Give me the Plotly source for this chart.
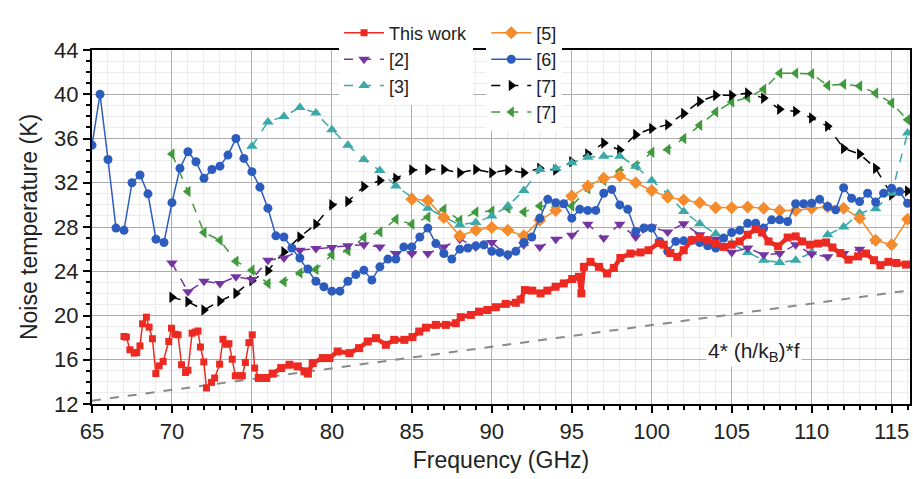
import plotly.graph_objects as go

# ---------------- data ----------------
# This work (red squares) - scattered low-frequency part
red_f_low = [67.0, 67.15, 67.37, 67.64, 67.8, 68.0, 68.16, 68.4, 68.57, 68.78, 68.99, 69.2, 69.45,
             69.8, 69.97, 70.2, 70.38, 70.6, 70.85, 71.0, 71.26, 71.45, 71.63, 71.78, 71.99, 72.16,
             72.47, 72.67, 72.98, 73.19, 73.4, 73.56, 73.77, 73.96, 74.2, 74.4, 74.59, 74.81, 75.02,
             75.17, 75.43]
red_T_low = [18.1, 18.05, 16.9, 16.6, 16.65, 17.25, 19.25, 19.85, 18.95, 17.9, 14.75, 15.45, 15.85,
             17.65, 18.85, 18.3, 18.25, 15.55, 14.85, 15.05, 18.4, 18.5, 18.6, 17.15, 15.8, 13.45,
             13.95, 14.35, 15.6, 17.85, 17.4, 17.45, 16.05, 14.55, 14.55, 14.55, 15.75, 17.55, 18.25,
             15.25, 14.35]
# This work - dense part
red_f_hi = [75.43, 75.9, 76.3, 76.83, 77.35, 77.87, 78.29, 78.5, 78.8, 79.43, 79.85, 80.36, 81.1,
            81.7, 82.24, 82.76, 83.38, 83.9, 84.53, 85.04, 85.46, 85.88, 86.5, 87.13, 87.75, 88.06,
            88.69, 89.2, 89.72, 90.25, 90.87, 91.5, 91.8, 92.07, 92.53, 93.05, 93.47, 93.99, 94.5,
            95.03, 95.44, 95.6, 95.76, 96.17, 96.7, 97.2, 97.63, 98.04, 98.67, 99.3, 99.8, 100.44,
            100.75, 101.16, 101.6, 102.0, 102.5, 103.0, 103.5, 104.0, 104.5, 105.0, 105.5, 106.0,
            106.5, 106.9, 107.3, 107.9, 108.5, 109.0, 109.4, 109.9, 110.4, 110.9, 111.3, 111.8,
            112.3, 112.9, 113.4, 113.9, 114.3, 114.8, 115.3, 115.9]
red_T_hi = [14.35, 14.35, 14.75, 15.25, 15.55, 15.4, 14.95, 14.75, 15.7, 16.15, 16.15, 16.75, 16.6,
            17.05, 17.65, 17.95, 17.35, 17.8, 17.8, 18.05, 18.55, 18.9, 19.15, 19.15, 19.3, 19.85,
            20.05, 20.35, 20.5, 20.75, 21.05, 21.15, 21.45, 22.3, 22.25, 22.0, 22.25, 22.6, 22.9,
            23.3, 23.5, 22.0, 24.4, 24.85, 24.4, 23.8, 24.3, 25.2, 25.6, 25.7, 25.9, 26.55,
            26.4, 25.65, 25.3, 25.9, 26.8, 27.0, 26.8, 26.5, 26.2, 26.4, 26.7, 27.3,
            27.8, 27.5, 26.7, 26.25, 27.05, 27.15, 26.7, 26.4, 26.5, 26.6, 26.15, 25.65,
            25.05, 25.35, 25.6, 25.0, 24.55, 24.85, 24.75, 24.6]

# [2] purple
ref2_f = list(range(70, 115))
ref2_T = [24.75, 22.15, 23.1, 22.9, 23.5, 23.25, 25.0, 25.2, 25.9, 26.05, 26.15, 26.3, 26.4, 26.2,
          25.6, 25.6, 25.6, 26.2, 26.9, 26.2, 26.6, 25.4, 26.4, 26.2, 26.9, 27.25, 28.25, 27.0,
          28.25, 27.1, 28.0, 27.55, 28.3, 27.3, 26.9, 25.7, 26.1, 25.5, 25.6, 26.4, 25.55, 25.3,
          25.6, 26.0, 26.7]

# [3] teal
ref3_f = list(range(75, 117))
ref3_T = [35.3, 37.5, 38.0, 38.8, 38.3, 36.8, 35.4, 34.1, 33.1, 31.7, 30.7, 29.7, 28.9, 28.2, 28.4,
          29.0, 29.9, 31.3, 33.2, 33.3, 33.8, 34.3, 34.4, 34.4, 33.5, 32.2, 31.0, 29.4, 28.3, 27.4,
          26.5, 25.7, 25.0, 24.8, 25.0, 25.7, 27.3, 28.0, 29.25, 29.65, 31.05, 36.5]

# [5] orange
ref5_f = list(range(85, 117))
ref5_T = [30.5, 30.4, 28.85, 27.2, 27.7, 27.95, 27.7, 27.2, 28.6, 29.5, 30.8, 31.7, 32.4, 32.6, 32.0,
          31.3, 30.7, 30.45, 30.2, 29.75, 29.75, 29.8, 29.7, 29.5, 29.5, 29.7, 29.8, 29.7, 28.8,
          26.8, 26.4, 28.7]

# [6] blue
ref6_f = [65 + 0.5 * i for i in range(103)]
ref6_T = [35.4, 40.0, 34.1, 27.9, 27.7, 32.0, 32.7, 31.0, 26.9, 26.6, 30.2, 33.3, 34.8, 33.9, 32.4,
          33.2, 33.5, 34.5, 36.0, 34.2, 33.0, 31.6, 29.7, 27.2, 27.1, 26.1, 25.2, 24.2, 23.1, 22.6,
          22.2, 22.2, 23.1, 23.7, 24.1, 23.2, 24.4, 25.1, 25.1, 26.2, 26.2, 27.1, 27.9, 26.5, 25.6,
          25.1, 26.0, 26.1, 26.3, 26.4, 25.8, 25.7, 25.5, 25.8, 26.6, 27.1, 28.8, 30.5, 30.2, 30.1,
          28.8, 29.6, 29.5, 29.5, 31.05, 31.4, 30.0, 29.6, 27.6, 27.9, 27.9, 26.7, 25.8, 26.7,
          26.75, 26.8, 26.6, 26.3, 26.1, 27.0, 27.5, 27.7, 28.35, 28.35, 27.9, 28.65, 28.65, 28.5,
          30.1, 30.1, 30.15, 30.5, 29.85, 29.55, 31.55, 30.6, 30.3, 31.05, 30.25, 31.05, 31.5,
          31.2, 30.15]

# [7] black
ref7a_f = list(range(70, 117))
ref7a_T = [21.65, 21.25, 20.5, 21.3, 22.0, 23.15, 24.05, 25.75, 27.1, 28.25, 30.0, 30.3, 31.65,
           32.2, 32.4, 33.15, 33.2, 33.2, 32.9, 33.2, 32.9, 33.15, 32.9, 33.3, 33.15, 33.9, 34.6,
           35.6, 34.95, 36.35, 36.9, 37.25, 38.25, 39.35, 39.9, 39.9, 40.1, 39.65, 38.65, 38.45,
           37.85, 37.1, 35.1, 34.6, 33.3, 30.9, 31.25]

# [7] green
ref7b_f = list(range(70, 117))
ref7b_T = [34.6, 31.2, 27.5, 26.8, 24.9, 24.1, 22.9, 23.05, 23.85, 24.15, 25.5, 25.85, 27.05, 27.55,
           28.7, 28.25, 28.9, 29.6, 28.6, 29.35, 29.45, 29.7, 29.35, 29.9, 29.8, 29.9, 31.45, 32.2,
           33.05, 33.55, 34.75, 35.0, 36.0, 37.2, 38.4, 39.3, 39.7, 40.45, 41.9, 41.9, 41.85, 40.8,
           40.9, 40.75, 40.1, 39.2, 37.7]

# quantum limit line 4*(h/kB)*f (end points)
limit_f = [65, 116]
limit_T = [12.3, 22.25]

x_ticks = [65, 70, 75, 80, 85, 90, 95, 100, 105, 110, 115]
y_ticks = [12, 16, 20, 24, 28, 32, 36, 40, 44]

# ---------------- figure ----------------
FONT = "Liberation Sans, Arial, sans-serif"
RED, PURPLE, TEAL = "#ec2a22", "#7435a2", "#3aa9a8"
ORANGE, BLUE, BLACK, GREEN = "#f58b2b", "#2d5cbf", "#000000", "#3f9a3c"

fig = go.Figure()

fig.add_trace(go.Scatter(x=limit_f, y=limit_T, mode="lines",
                         line=dict(color="#8a8a8a", width=2, dash="dash"),
                         showlegend=False, hoverinfo="skip"))

fig.add_trace(go.Scatter(x=ref7b_f, y=ref7b_T, mode="lines+markers", name="[7]",
                         legend="legend2", legendrank=4,
                         line=dict(color=GREEN, width=1.5, dash="dash"),
                         marker=dict(symbol="triangle-left", size=10, color=GREEN)))
fig.add_trace(go.Scatter(x=ref7a_f, y=ref7a_T, mode="lines+markers", name="[7]",
                         legend="legend2", legendrank=3,
                         line=dict(color=BLACK, width=1.5, dash="dash"),
                         marker=dict(symbol="triangle-right", size=10, color=BLACK)))
fig.add_trace(go.Scatter(x=ref3_f, y=ref3_T, mode="lines+markers", name="[3]",
                         legend="legend", legendrank=3,
                         line=dict(color=TEAL, width=1.5, dash="dash"),
                         marker=dict(symbol="triangle-up", size=10, color=TEAL)))
fig.add_trace(go.Scatter(x=ref2_f, y=ref2_T, mode="lines+markers", name="[2]",
                         legend="legend", legendrank=2,
                         line=dict(color=PURPLE, width=1.5, dash="dash"),
                         marker=dict(symbol="triangle-down", size=10, color=PURPLE)))
fig.add_trace(go.Scatter(x=ref5_f, y=ref5_T, mode="lines+markers", name="[5]",
                         legend="legend2", legendrank=1,
                         line=dict(color=ORANGE, width=1.5),
                         marker=dict(symbol="diamond", size=10, color=ORANGE)))
fig.add_trace(go.Scatter(x=ref6_f, y=ref6_T, mode="lines+markers", name="[6]",
                         legend="legend2", legendrank=2,
                         line=dict(color=BLUE, width=1.5),
                         marker=dict(symbol="circle", size=9, color=BLUE)))
fig.add_trace(go.Scatter(x=red_f_hi, y=red_T_hi, mode="lines+markers", name="This work",
                         showlegend=False,
                         line=dict(color=RED, width=4.5),
                         marker=dict(symbol="square", size=8, color=RED)))
fig.add_trace(go.Scatter(x=red_f_low, y=red_T_low, mode="lines+markers", name="This work",
                         legend="legend", legendrank=1,
                         line=dict(color=RED, width=1.5),
                         marker=dict(symbol="square", size=7, color=RED)))

fig.add_annotation(x=106.4, y=16.7, xref="x", yref="y",
                   text="4* (h/k<sub>B</sub>)*f", showarrow=False,
                   bgcolor="white", font=dict(family=FONT, size=21, color="#222"))

axis_common = dict(showline=True, linecolor="black", linewidth=2, mirror=True,
                   ticks="outside", ticklen=7, tickwidth=1.5, tickcolor="black",
                   showgrid=True, gridcolor="#adadad", gridwidth=1, zeroline=False,
                   tickfont=dict(family=FONT, size=22, color="#222"))

fig.update_layout(
    width=913, height=479,
    margin=dict(l=92, r=1, t=50, b=75),
    paper_bgcolor="white", plot_bgcolor="white",
    font=dict(family=FONT, color="#222"),
    xaxis=dict(range=[65, 116.15], tickvals=x_ticks,
               minor=dict(dtick=1, tick0=65, ticks="outside", ticklen=4, tickcolor="black",
                          showgrid=True, gridcolor="#ececec"),
               title=dict(text="Frequency (GHz)", font=dict(family=FONT, size=23, color="#222"),
                          standoff=8),
               **axis_common),
    yaxis=dict(range=[12, 44], tickvals=y_ticks,
               minor=dict(dtick=1, tick0=12, ticks="outside", ticklen=4, tickcolor="black",
                          showgrid=True, gridcolor="#ececec"),
               title=dict(text="Noise temperature (K)", font=dict(family=FONT, size=23, color="#222"),
                          standoff=10),
               **axis_common),
    legend=dict(x=0.302, y=1.10, xanchor="left", yanchor="top", bgcolor="white",
                font=dict(family=FONT, size=18, color="#222"), tracegroupgap=0,
                itemwidth=40, borderwidth=0),
    legend2=dict(x=0.482, y=1.10, xanchor="left", yanchor="top", bgcolor="white",
                 font=dict(family=FONT, size=18, color="#222"), tracegroupgap=0,
                 itemwidth=40, borderwidth=0),
)

fig.write_html("out.html")
